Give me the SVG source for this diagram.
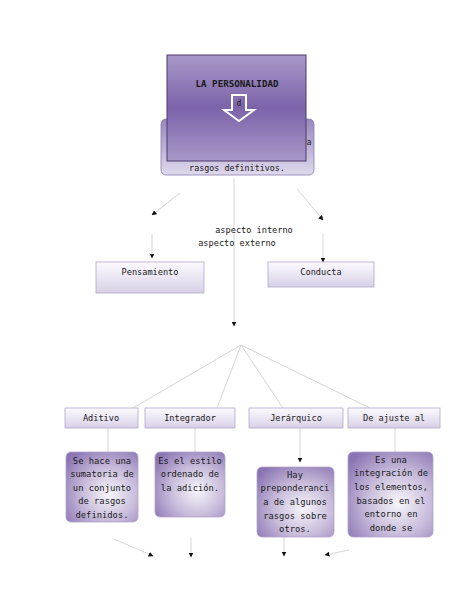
<svg xmlns="http://www.w3.org/2000/svg" width="474" height="613" viewBox="0 0 474 613">
<style>
text{font-family:"DejaVu Sans Mono","Liberation Mono",monospace;font-size:8.6px;fill:#1a1a1a;text-anchor:middle}
.ln{stroke:#d6d6d6;stroke-width:1;fill:none}
.lab{fill:url(#gLab);stroke:#b3a7cb;stroke-width:0.8}
.det{fill:url(#gDet);stroke:#b0a4c8;stroke-width:0.8}
.dt{font-size:8.8px}
</style>
<defs>
<linearGradient id="gFront" x1="0" y1="0" x2="0" y2="1">
<stop offset="0" stop-color="#a898c8"/><stop offset="0.5" stop-color="#7c63aa"/><stop offset="1" stop-color="#a898c8"/>
</linearGradient>
<linearGradient id="gBack" x1="0" y1="0" x2="0" y2="1">
<stop offset="0" stop-color="#9888bd"/><stop offset="1" stop-color="#e0d9ec"/>
</linearGradient>
<linearGradient id="gLab" x1="0" y1="0" x2="0" y2="1">
<stop offset="0" stop-color="#fcfbfe"/><stop offset="1" stop-color="#d8d0e7"/>
</linearGradient>
<radialGradient id="gDet" cx="0.6" cy="0.6" r="0.75">
<stop offset="0" stop-color="#f7f5fa"/><stop offset="0.5" stop-color="#c8bcdb"/><stop offset="1" stop-color="#8a74b3"/>
</radialGradient>
<marker id="ah" viewBox="0 0 10 10" refX="9" refY="5" markerWidth="5" markerHeight="5" orient="auto" markerUnits="userSpaceOnUse">
<path d="M0,0 L10,5 L0,10 z" fill="#111"/>
</marker>
</defs>

<g id="connectors">
<line class="ln" x1="180" y1="193" x2="152" y2="215" marker-end="url(#ah)"/>
<line class="ln" x1="297" y1="189" x2="323" y2="220" marker-end="url(#ah)"/>
<line class="ln" x1="234" y1="178" x2="234" y2="326" marker-end="url(#ah)"/>
<line class="ln" x1="152" y1="234" x2="152" y2="258" marker-end="url(#ah)"/>
<line class="ln" x1="323" y1="234" x2="323" y2="262" marker-end="url(#ah)"/>
<line class="ln" x1="241" y1="345" x2="133" y2="408"/>
<line class="ln" x1="241" y1="345" x2="217" y2="408"/>
<line class="ln" x1="241" y1="345" x2="283" y2="408"/>
<line class="ln" x1="241" y1="345" x2="370" y2="408"/>
<line class="ln" x1="108" y1="428" x2="108" y2="452"/>
<line class="ln" x1="195" y1="428" x2="195" y2="452"/>
<line class="ln" x1="300" y1="428" x2="300" y2="462" marker-end="url(#ah)"/>
<line class="ln" x1="395" y1="428" x2="395" y2="452"/>
<line class="ln" x1="114" y1="539" x2="153" y2="556" marker-end="url(#ah)"/>
<line class="ln" x1="191" y1="538" x2="191" y2="557" marker-end="url(#ah)"/>
<line class="ln" x1="284" y1="537" x2="284" y2="556" marker-end="url(#ah)"/>
<line class="ln" x1="349" y1="550" x2="325" y2="555" marker-end="url(#ah)"/>
</g>

<text x="254" y="233">aspecto interno</text>
<text x="237" y="246">aspecto externo</text>

<g id="back">
<rect x="161" y="119" width="153" height="56" rx="5" fill="url(#gBack)" stroke="#8c7cae" stroke-width="0.8"/>
<text x="237" y="171" style="font-size:8.4px">rasgos definitivos.</text>
<text x="309" y="145" style="font-size:8.4px">a</text>
</g>

<g id="personalidad">
<rect x="167" y="55" width="139" height="106" fill="url(#gFront)" stroke="#4a3a6c" stroke-width="1"/>
<text x="237" y="87" style="font-weight:bold;font-size:9.2px">LA PERSONALIDAD</text>
<path d="M232,95 H246 V110 H254 L239,121 L224,110 H232 Z" fill="none" stroke="#ffffff" stroke-width="2"/>
<text x="239" y="106" style="font-size:8px">d</text>
</g>

<g id="pensamiento">
<rect class="lab" x="96" y="262" width="108" height="31"/>
<text x="150" y="275">Pensamiento</text>
</g>
<g id="conducta">
<rect class="lab" x="268" y="262" width="106" height="25"/>
<text x="321" y="275">Conducta</text>
</g>

<g id="aditivo">
<rect class="lab" x="65" y="408" width="73" height="20"/>
<text x="101" y="421">Aditivo</text>
</g>
<g id="integrador">
<rect class="lab" x="145" y="408" width="90" height="20"/>
<text x="190" y="421">Integrador</text>
</g>
<g id="jerarquico">
<rect class="lab" x="249" y="408" width="94" height="20"/>
<text x="296" y="421">Jerárquico</text>
</g>
<g id="ajuste">
<rect class="lab" x="348" y="408" width="92" height="20"/>
<text x="394" y="421">De ajuste al</text>
</g>

<g id="sehace">
<rect class="det" x="66" y="452" width="72" height="70" rx="5"/>
<text class="dt" x="102" y="464">Se hace una</text>
<text class="dt" x="102" y="477">sumatoria de</text>
<text class="dt" x="102" y="491">un conjunto</text>
<text class="dt" x="102" y="504">de rasgos</text>
<text class="dt" x="102" y="518">definidos.</text>
</g>
<g id="esestilo">
<rect class="det" x="155" y="452" width="70" height="65" rx="5"/>
<text class="dt" x="190" y="464">Es el estilo</text>
<text class="dt" x="190" y="477">ordenado de</text>
<text class="dt" x="190" y="491">la adición.</text>
</g>
<g id="hay">
<rect class="det" x="257" y="467" width="77" height="70" rx="5"/>
<text class="dt" x="295" y="478">Hay</text>
<text class="dt" x="295" y="491">preponderanci</text>
<text class="dt" x="295" y="505">a de algunos</text>
<text class="dt" x="295" y="519">rasgos sobre</text>
<text class="dt" x="295" y="532">otros.</text>
</g>
<g id="esuna">
<rect class="det" x="348" y="452" width="85" height="85" rx="5"/>
<text class="dt" x="391" y="463">Es una</text>
<text class="dt" x="391" y="476">integración de</text>
<text class="dt" x="391" y="490">los elementos,</text>
<text class="dt" x="391" y="504">basados en el</text>
<text class="dt" x="391" y="517">entorno en</text>
<text class="dt" x="391" y="531">donde se</text>
</g>
</svg>
